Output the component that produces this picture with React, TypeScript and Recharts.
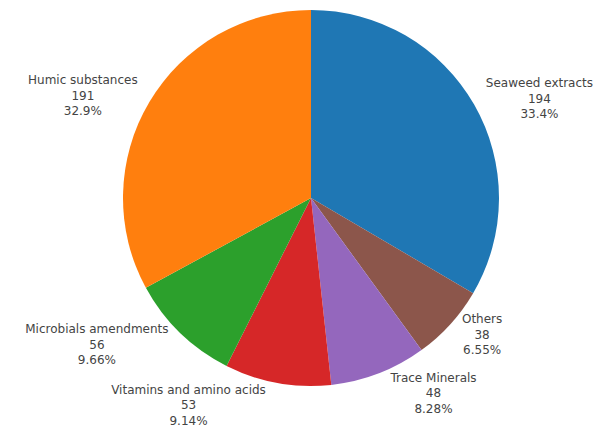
import React from "react";
import { PieChart, Pie, Cell } from "recharts";

const categories = [
  "Seaweed extracts",
  "Others",
  "Trace Minerals",
  "Vitamins and amino acids",
  "Microbials amendments",
  "Humic substances",
];
const counts = [194, 38, 48, 53, 56, 191];
const colors = ["#1f77b4", "#8c564b", "#9467bd", "#d62728", "#2ca02c", "#ff7f0e"];

const data = categories.map((name, i) => ({ name, value: counts[i] }));
const total = counts.reduce((a, b) => a + b, 0);

const FONT = "DejaVu Sans, Verdana, sans-serif";
const FONT_SIZE = 12;
const LINE_H = 15.6;

let ctx: CanvasRenderingContext2D | null = null;
const measure = (s: string) => {
  if (!ctx) {
    ctx = document.createElement("canvas").getContext("2d");
    if (ctx) ctx.font = `${FONT_SIZE}px ${FONT}`;
  }
  return ctx ? ctx.measureText(s).width : s.length * 7;
};

const RADIAN = Math.PI / 180;

// outside label placement, similar to plotly's pie outside text
const renderLabel = (props: any) => {
  const { cx, cy, midAngle, outerRadius, name, value } = props;
  const pct = ((value / total) * 100).toPrecision(3) + "%";
  const lines = [name, String(value), pct];
  const w = Math.max(...lines.map(measure));
  const h = lines.length * LINE_H;
  const px = outerRadius * Math.cos(-midAngle * RADIAN);
  const py = outerRadius * Math.sin(-midAngle * RADIAN);
  let dx = w / 2;
  let dy = h / 2;
  if (px < 0) dx *= -1;
  if (py < 0) dy *= -1;
  const ox = dx + ((Math.abs(dy) * (dx > 0 ? 1 : -1)) / 2);
  const oy = dy / (1 + (px * px) / (py * py));
  const bx = cx + px + ox;
  const by = cy + py + oy;
  const top = by - h / 2;
  return (
    <text
      x={bx}
      textAnchor="middle"
      fill="#444"
      fontFamily={FONT}
      fontSize={FONT_SIZE}
    >
      {lines.map((l, i) => (
        <tspan key={i} x={bx} y={top + LINE_H * i + 11.5}>
          {l}
        </tspan>
      ))}
    </text>
  );
};

export default function App() {
  return (
    <div style={{ position: "absolute", left: 0, top: 0, background: "#fff" }}>
      <PieChart
        width={611}
        height={427}
        margin={{ top: 0, right: 0, bottom: 0, left: 0 }}
      >
        <Pie
          data={data}
          dataKey="value"
          nameKey="name"
          cx={311}
          cy={198}
          outerRadius={188}
          startAngle={90}
          endAngle={-270}
          stroke="none"
          labelLine={false}
          label={renderLabel}
          isAnimationActive={false}
        >
          {data.map((d, i) => (
            <Cell key={d.name} fill={colors[i]} />
          ))}
        </Pie>
      </PieChart>
    </div>
  );
}
